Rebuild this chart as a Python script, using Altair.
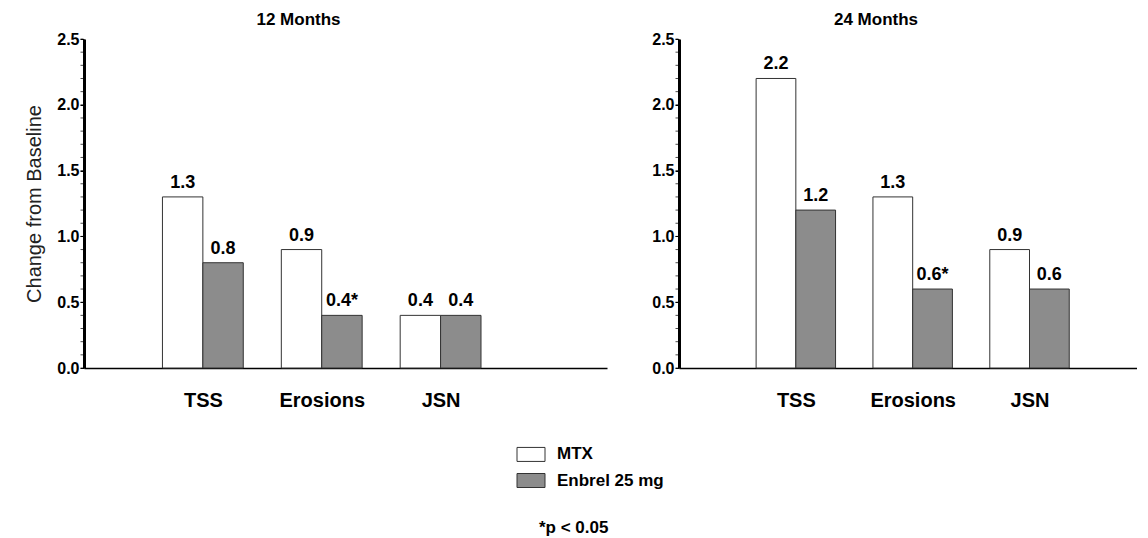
import altair as alt
import pandas as pd

categories = ["TSS", "Erosions", "JSN"]
series = ["MTX", "Enbrel 25 mg"]
mtx_12 = [1.3, 0.9, 0.4]
enb_12 = [0.8, 0.4, 0.4]
mtx_24 = [2.2, 1.3, 0.9]
enb_24 = [1.2, 0.6, 0.6]
labels_12 = [["1.3", "0.9", "0.4"], ["0.8", "0.4*", "0.4"]]
labels_24 = [["2.2", "1.3", "0.9"], ["1.2", "0.6*", "0.6"]]

FONT = "Liberation Sans"
HALF = 0.34


def frame(mtx, enb, labels):
    rows = []
    for i, c in enumerate(categories):
        pos = i + 1
        rows.append({"cat": c, "series": series[0], "x0": pos - HALF, "x1": pos,
                     "xm": pos - HALF / 2, "v": mtx[i], "lab": labels[0][i]})
        rows.append({"cat": c, "series": series[1], "x0": pos, "x1": pos + HALF,
                     "xm": pos + HALF / 2, "v": enb[i], "lab": labels[1][i]})
    return pd.DataFrame(rows)


color = alt.Color("series:N", scale=alt.Scale(domain=series, range=["white", "#8c8c8c"]), legend=None)
label_expr = "datum.value == 1 ? 'TSS' : datum.value == 2 ? 'Erosions' : datum.value == 3 ? 'JSN' : ''"


def panel(df, title, xmax, width, ytitle, tdx):
    xs = alt.Scale(domain=[0, xmax], nice=False, zero=False)
    ys = alt.Scale(domain=[0, 2.5], nice=False)
    yaxis = alt.Axis(values=[0, 0.5, 1.0, 1.5, 2.0, 2.5], format=".1f",
                     labelFontSize=16, labelFontWeight="bold", labelFont=FONT, labelColor="black",
                     domainWidth=3, domainColor="black", tickColor="black", tickSize=4,
                     labelPadding=1, grid=False,
                     title=ytitle if ytitle else None, titleFontSize=20, titleFontWeight="normal",
                     titleColor="#222", titlePadding=12, titleFont=FONT)
    xaxis = alt.Axis(values=[1, 2, 3], labelExpr=label_expr, title=None)
    base = alt.Chart(df)
    bars = base.mark_bar(stroke="#333", strokeWidth=1).encode(
        x=alt.X("x0:Q", scale=xs, axis=xaxis),
        x2="x1:Q",
        y=alt.Y("v:Q", scale=ys, axis=yaxis),
        y2=alt.datum(0),
        color=color,
    )
    minor = alt.Chart(pd.DataFrame({"t": [i / 10 for i in range(26)]})).mark_tick(
        color="black", thickness=1, size=3, xOffset=-2
    ).encode(y=alt.Y("t:Q", scale=ys, axis=yaxis), x=alt.value(0))
    text = base.mark_text(dy=-14, fontSize=18, fontWeight="bold", font=FONT, color="black").encode(
        x=alt.X("xm:Q", scale=xs, axis=xaxis), y=alt.Y("v:Q", scale=ys, axis=yaxis), text="lab:N"
    )
    return (bars + minor + text).properties(
        width=width, height=329,
        title=alt.TitleParams(title, fontSize=17, fontWeight="bold", font=FONT, color="black",
                              offset=2, dx=tdx),
    )


left = panel(frame(mtx_12, enb_12, labels_12), "12 Months", 4.4, 523, "Change from Baseline", -47)
right = panel(frame(mtx_24, enb_24, labels_24), "24 Months", 3.92, 458, "", -32)
top = alt.hconcat(left, right, spacing=44)

leg_df = pd.DataFrame({"series": series, "name": series})
leg_y = alt.Y("series:N", scale=alt.Scale(domain=series + ["note"], paddingInner=0.2, paddingOuter=0), axis=None)
leg_box = alt.Chart(leg_df).mark_rect(stroke="#333", strokeWidth=1, height=14).encode(
    x=alt.value(433), x2=alt.value(461), y=leg_y, color=color
)
leg_text = alt.Chart(leg_df).mark_text(align="left", fontSize=17, fontWeight="bold", font=FONT, color="black").encode(
    x=alt.value(473), y=leg_y, text="name:N"
)
note = alt.Chart(pd.DataFrame({"series": ["note"], "name": ["*p < 0.05"]})).mark_text(
    align="left", fontSize=17, fontWeight="bold", font=FONT, color="black", dy=21
).encode(x=alt.value(455), y=leg_y, text="name:N")
legend = (leg_box + leg_text + note).properties(width=1050, height=73)

chart = (
    alt.vconcat(top, legend, spacing=34)
    .configure_view(stroke=None)
    .configure_axis(grid=False, labelFont=FONT, titleFont=FONT, labelColor="black", domainColor="black")
    .configure_axisX(labelFontSize=20, labelFontWeight="bold", ticks=False, labelPadding=22,
                     domainWidth=1.5)
    .properties(padding={"left": 16, "top": 3, "right": 0, "bottom": 0})
)
chart.save("out.html", embed_options={"renderer": "svg", "actions": False})
